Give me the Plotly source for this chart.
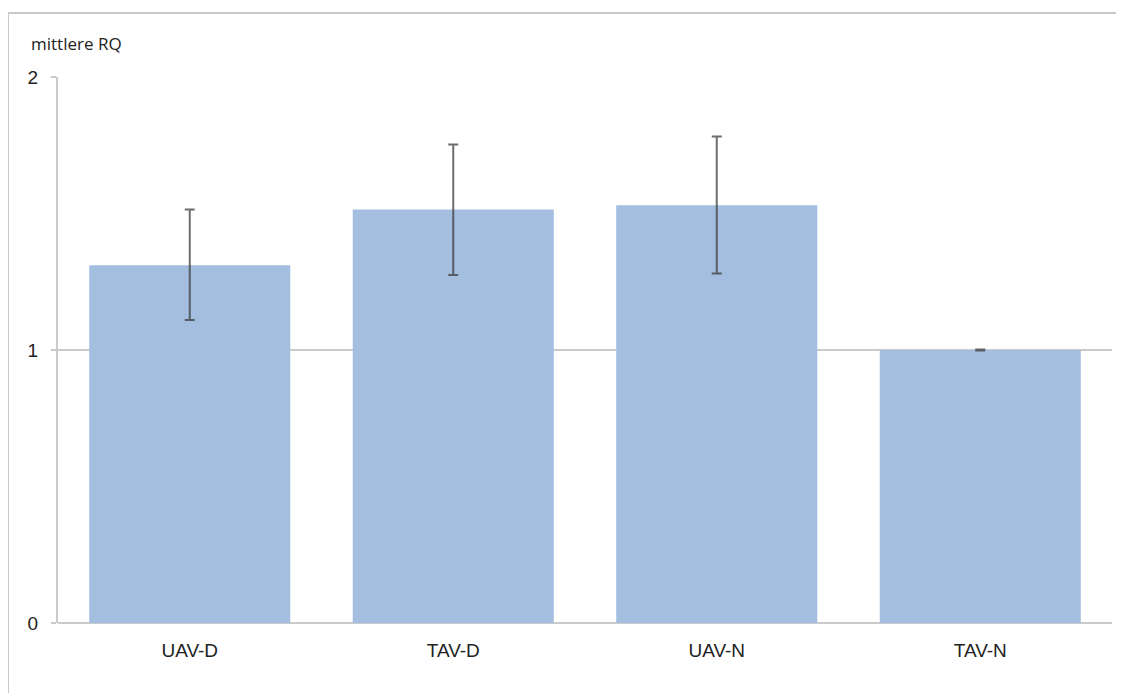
import plotly.graph_objects as go

categories = ["UAV-D", "TAV-D", "UAV-N", "TAV-N"]
mean_rq = [1.31, 1.515, 1.53, 1.0]
err_plus = [0.205, 0.238, 0.252, 0.002]
err_minus = [0.2, 0.24, 0.25, 0.002]
y_ticks = [0, 1, 2]

W, H = 1124, 693
OFF = 8  # page body offset
L, R, T, B = 58 - OFF, 1124 - (1112 - OFF), 77 - OFF, 70 + OFF
pw, ph = W - L - R, H - T - B

def px_x(p):
    return (p - OFF - L) / pw

def px_y(p):
    return (H - B - (p - OFF)) / ph

fig = go.Figure()
fig.add_trace(go.Bar(
    x=categories, y=mean_rq, width=0.763,
    marker=dict(color="#A3BEDF", line=dict(width=0)),
    error_y=dict(type="data", symmetric=False, array=err_plus, arrayminus=err_minus,
                 color="rgba(60,60,60,0.75)", thickness=2, width=5),
))

fig.update_layout(
    width=W, height=H,
    margin=dict(l=L, r=R, t=T, b=B),
    paper_bgcolor="white", plot_bgcolor="white",
    showlegend=False,
    font=dict(family="Liberation Sans, Arial, sans-serif", color="#222"),
    xaxis=dict(showgrid=False, showline=False, ticks="", tickfont=dict(size=19),
               ticklabelstandoff=14),
    yaxis=dict(range=[0, 2], tickvals=y_ticks, showgrid=True, gridcolor="#CACACA", gridwidth=2,
               zeroline=True, zerolinecolor="#CACACA", zerolinewidth=2,
               showline=True, linecolor="#CACACA", linewidth=2,
               ticks="outside", ticklen=5, tickcolor="#CACACA", tickwidth=2,
               tickfont=dict(size=19), ticklabelstandoff=9),
    shapes=[dict(type="rect", xref="paper", yref="paper",
                 x0=px_x(8), x1=px_x(1140), y0=px_y(710), y1=px_y(13),
                 line=dict(color="#C8C8C8", width=2), fillcolor="rgba(0,0,0,0)", layer="below")],
    annotations=[dict(text="mittlere RQ", xref="paper", yref="paper",
                      x=px_x(29), y=px_y(43), xanchor="left", yanchor="middle",
                      showarrow=False, font=dict(size=17, family="Open Sans, sans-serif", color="#222"))],
)

fig.write_html("out.html")
